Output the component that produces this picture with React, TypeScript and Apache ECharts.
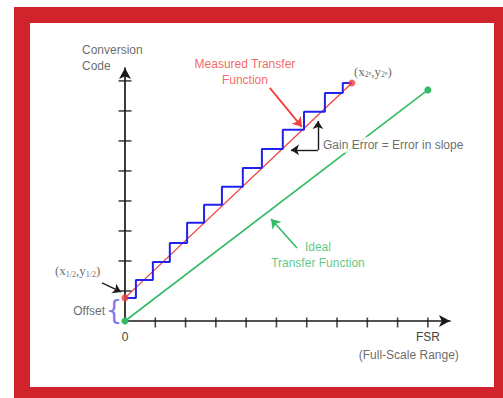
import { useEffect, useRef } from "react";
import * as echarts from "echarts";

// Axis ticks (in LSB-ish units of the drawing) and the two labelled positions on the FSR axis
const xTicks = [1, 2, 3, 4, 5, 6, 7, 8, 9, 10];
const yTicks = [1, 2, 3, 4, 5, 6, 7, 8];
const xLabelValues = [0, 10];
const xLabelTexts = ["0", "FSR"];

// Ideal transfer function: straight from the origin to full scale
const idealX = [0, 10];
const idealY = [0, 7.7];

// Measured transfer function: offset at zero input, different slope (gain error)
const measuredX = [0, 7.49];
const measuredY = [0.77, 7.93];

// Quantised output codes of the measured converter: step edges and code levels
const stepEdges = [0, 0.36, 0.92, 1.48, 2.05, 2.61, 3.2, 3.89, 4.52, 5.21, 5.91, 6.6, 7.19, 7.49];
const stepCodes = [0.77, 1.37, 1.97, 2.6, 3.27, 3.87, 4.47, 5.1, 5.73, 6.37, 6.97, 7.6, 7.93];

// Callout arrows: [fromX, fromY, toX, toY]
const measuredArrow = [[4.78, 7.77, 5.84, 6.47]];
const gainArrows = [
  [6.37, 5.7, 6.37, 6.66],
  [6.37, 5.7, 5.48, 5.7],
];
const halfLsbArrow = [[-0.76, 1.27, -0.13, 0.97]];
const idealArrow = [[5.68, 2.43, 4.82, 3.4]];

const SANS = "'Liberation Sans', Arial, sans-serif";
const SERIF = "'Liberation Serif', 'Times New Roman', serif";
const TEXT = "#444";
const RED = "#EE4040";
const GREEN = "#33BB66";
const BLUE = "#2222EE";
const AXIS = "#1a1a1a";

const staircase: number[][] = [];
for (let i = 0; i < stepCodes.length; i++) {
  staircase.push([stepEdges[i], stepCodes[i]]);
  staircase.push([stepEdges[i + 1], stepCodes[i]]);
}

const arrowSeries = (name: string, rows: number[][], color: string, width: number, size: number[]) => ({
  name,
  type: "lines",
  coordinateSystem: "cartesian2d",
  clip: false,
  silent: true,
  z: 6,
  color,
  symbol: ["none", "arrow"],
  symbolSize: size,
  lineStyle: { color, width, opacity: 1 },
  data: rows.map((r) => ({ coords: [[r[0], r[1]], [r[2], r[3]]] })),
});

const note = (x: number, y: number, label: Record<string, unknown>) => ({
  value: [x, y],
  label: {
    show: true,
    position: "inside",
    fontFamily: SANS,
    fontSize: 12,
    color: TEXT,
    ...label,
  },
});

const sub = { fontSize: 8, verticalAlign: "bottom", fontFamily: SERIF, color: TEXT, lineHeight: 15 };

export default function App() {
  const ref = useRef<HTMLDivElement>(null);

  useEffect(() => {
    if (!ref.current) return;
    const chart = echarts.init(ref.current, undefined, { renderer: "svg" });

    const axisCommon = {
      type: "value",
      min: 0,
      interval: 1,
      splitLine: { show: false },
      axisTick: { show: false },
      axisLine: {
        show: true,
        onZero: false,
        symbol: ["none", "arrow"],
        symbolSize: [9, 11],
        lineStyle: { color: AXIS, width: 1.7 },
      },
    };

    chart.setOption({
      animation: false,
      grid: { left: 125, top: 68, width: 325, height: 253, outerBoundsMode: "none", containLabel: false },
      xAxis: {
        ...axisCommon,
        max: 10.73,
        axisLabel: {
          show: true,
          margin: 10,
          fontFamily: SANS,
          fontSize: 12,
          color: TEXT,
          showMaxLabel: false,
          formatter: (v: number) => {
            const i = xLabelValues.indexOf(v);
            return i >= 0 ? xLabelTexts[i] : "";
          },
        },
      },
      yAxis: { ...axisCommon, max: 8.43, axisLabel: { show: false } },
      series: [
        {
          name: "Ticks X",
          type: "scatter",
          silent: true,
          symbol: "rect",
          symbolSize: [1.6, 10],
          symbolOffset: [0, 1.5],
          itemStyle: { color: AXIS },
          clip: false,
          z: 3,
          data: xTicks.map((t) => [t, 0]),
        },
        {
          name: "Ticks Y",
          type: "scatter",
          silent: true,
          symbol: "rect",
          symbolSize: [13, 1.6],
          itemStyle: { color: AXIS },
          clip: false,
          z: 3,
          data: yTicks.map((t) => [0, t]),
        },
        {
          name: "Ideal Transfer Function",
          type: "line",
          silent: true,
          symbol: "circle",
          symbolSize: 7,
          showSymbol: true,
          itemStyle: { color: GREEN },
          lineStyle: { color: GREEN, width: 1.6 },
          z: 4,
          data: idealX.map((x, i) => [x, idealY[i]]),
        },
        {
          name: "Measured Transfer Function",
          type: "line",
          silent: true,
          symbol: "none",
          lineStyle: { color: RED, width: 1.3 },
          z: 3,
          data: measuredX.map((x, i) => [x, measuredY[i]]),
        },
        {
          name: "Output Codes",
          type: "line",
          silent: true,
          symbol: "none",
          lineStyle: { color: BLUE, width: 2 },
          z: 4,
          data: staircase,
        },
        {
          name: "Measured Endpoints",
          type: "scatter",
          silent: true,
          symbolSize: 7,
          itemStyle: { color: RED },
          z: 5,
          data: measuredX.map((x, i) => [x, measuredY[i]]),
        },
        arrowSeries("Measured Callout", measuredArrow, RED, 1.8, [1, 9]),
        arrowSeries("Gain Callout", gainArrows, AXIS, 1.4, [1, 8]),
        arrowSeries("Half LSB Callout", halfLsbArrow, AXIS, 1.2, [1, 8]),
        arrowSeries("Ideal Callout", idealArrow, GREEN, 1.6, [1, 9]),
        {
          name: "Notes",
          type: "scatter",
          silent: true,
          clip: false,
          symbol: "circle",
          symbolSize: 1,
          itemStyle: { color: "rgba(0,0,0,0)" },
          z: 8,
          data: [
            note(-1.42, 8.77, { formatter: "Conversion\nCode", align: "left", verticalAlign: "middle", lineHeight: 16 }),
            note(3.96, 8.3, {
              formatter: "Measured Transfer\nFunction",
              align: "center",
              verticalAlign: "middle",
              lineHeight: 16,
              color: RED,
            }),
            note(7.56, 8.33, {
              formatter: "(x{s|2ⁿ},y{s|2ⁿ})",
              align: "left",
              verticalAlign: "middle",
              fontFamily: SERIF,
              fontSize: 13,
              lineHeight: 15,
              rich: { s: sub },
            }),
            note(6.47, 5.87, {
              formatter: "Gain Error = Error in slope",
              align: "left",
              verticalAlign: "middle",
              backgroundColor: "#fff",
              padding: [2, 2],
            }),
            note(6.37, 2.2, {
              formatter: "Ideal\nTransfer Function",
              align: "center",
              verticalAlign: "middle",
              lineHeight: 16,
              color: GREEN,
            }),
            note(-2.31, 1.67, {
              formatter: "(x{s|1/2},y{s|1/2})",
              align: "left",
              verticalAlign: "middle",
              fontFamily: SERIF,
              fontSize: 13,
              lineHeight: 15,
              rich: { s: sub },
            }),
            note(-0.66, 0.33, { formatter: "Offset", align: "right", verticalAlign: "middle" }),
            note(-0.36, 0.37, {
              formatter: "{",
              align: "center",
              verticalAlign: "middle",
              fontSize: 26,
              fontFamily: "'DejaVu Sans', sans-serif",
              color: "#5555EE",
            }),
            note(9.37, -1.13, { formatter: "(Full-Scale Range)", align: "center", verticalAlign: "middle" }),
          ],
        },
      ],
    });

    return () => chart.dispose();
  }, []);

  return (
    <div
      style={{
        position: "fixed",
        left: 0,
        top: 0,
        width: 503,
        height: 398,
        overflow: "hidden",
        background: "#fff",
      }}
    >
      <div
        style={{
          position: "absolute",
          left: 14,
          top: 7,
          width: 496,
          height: 396,
          boxSizing: "border-box",
          border: "16px solid #D0232B",
          background: "#fff",
        }}
      />
      <div ref={ref} style={{ position: "absolute", left: 0, top: 0, width: 503, height: 398 }} />
    </div>
  );
}
